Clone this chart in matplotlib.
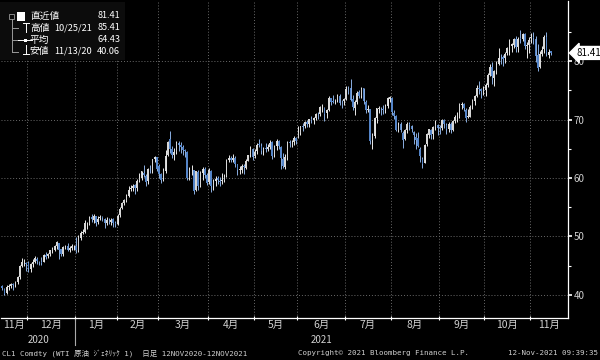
import matplotlib
matplotlib.use("Agg")
import matplotlib.pyplot as plt
import matplotlib.transforms as mtransforms
from matplotlib.patches import Rectangle
from matplotlib.lines import Line2D
import numpy as np
import pandas as pd

plt.rcParams['font.family'] = ['Noto Sans CJK JP', 'DejaVu Sans']

# CL1 Comdty daily bars, 12 Nov 2020 - 12 Nov 2021
holidays = ['2020-11-26', '2020-12-25', '2021-01-01', '2021-01-18', '2021-02-15',
            '2021-04-02', '2021-05-31', '2021-07-05', '2021-09-06']
dates = pd.bdate_range('2020-11-12', '2021-11-12', freq='C', holidays=holidays)

opens = [
    41.45, 41.07, 40.35, 41.43, 41.51, 41.83, 41.73, 42.24, 43.09, 44.89, 45.44, 45.53,
    45.41, 44.37, 45.26, 45.67, 46.19, 45.63, 45.58, 45.67, 46.81, 46.73, 46.97, 47.66,
    47.75, 48.31, 48.84, 47.81, 46.99, 48.11, 48.31, 47.70, 48.05, 48.47,
    48.40, 47.53, 49.81, 50.58, 50.84, 52.25, 52.22, 53.27, 52.86, 53.44, 52.43, 53.12,
    53.37, 52.99, 52.31, 52.73, 52.55, 52.92, 52.26,
    52.20, 53.67, 54.83, 55.77, 56.12, 56.90, 58.10, 58.38, 58.77, 58.26, 59.50, 60.00,
    60.93, 60.38, 59.47, 61.69, 61.33, 63.30, 63.56,
    62.00, 60.69, 60.01, 61.16, 63.95, 66.60, 64.96, 63.96, 64.53, 66.05, 65.62, 65.36,
    64.83, 64.39, 60.02, 61.55, 61.33, 58.00, 61.07, 58.69, 60.92, 61.54, 60.57,
    59.31, 61.25, 58.57, 59.42, 59.93, 59.54, 59.49, 59.61, 60.41, 63.15, 63.48, 63.15,
    63.47, 62.37, 61.43, 61.37, 62.11, 61.80, 62.96, 63.95, 64.98,
    63.78, 64.58, 65.86, 65.52, 64.61, 65.14, 64.92, 65.38, 66.13, 63.98, 65.46, 66.38,
    65.31, 63.31, 61.92, 63.36, 66.19, 66.09, 66.25, 66.92,
    66.89, 67.75, 68.93, 68.95, 69.64, 69.31, 70.08, 69.93, 70.24, 70.94, 70.89, 72.11,
    71.99, 71.05, 71.58, 73.67, 73.25, 73.12, 73.28, 74.08, 72.99, 73.17,
    73.56, 75.24, 75.35, 73.57, 71.94, 73.01, 74.72, 74.07, 75.38, 73.06, 71.71, 71.85,
    66.44, 67.14, 70.23, 71.81, 72.04, 71.90, 71.68, 72.30, 73.47,
    73.65, 71.21, 70.60, 68.15, 69.17, 67.77, 66.73, 68.27, 69.28, 68.85, 67.90, 67.08,
    66.87, 65.00, 63.34, 62.60, 65.75, 67.40, 68.29, 67.51, 68.81, 69.13,
    68.66, 68.58, 69.93, 69.05, 68.38, 69.32, 68.26, 69.75, 70.44, 70.49, 72.55, 72.60,
    71.70, 70.44, 70.52, 72.30, 73.24, 74.00, 75.45, 75.29, 74.88,
    75.09, 75.92, 77.69, 78.99, 77.18, 78.35, 79.56, 80.77, 80.67, 80.53, 81.42, 82.42,
    82.55, 82.71, 83.77, 82.46, 83.98, 83.77, 84.66, 82.55, 82.85,
    83.98, 84.11, 83.80, 81.05, 79.07, 81.20, 82.01, 84.22, 81.08, 81.68,
]
highs = [
    41.70, 41.21, 41.70, 41.95, 42.04, 42.00, 42.38, 43.27, 45.20, 46.26, 46.10, 45.58,
    45.85, 45.43, 46.14, 46.68, 46.49, 45.89, 46.55, 47.00, 47.30, 47.23, 47.77, 48.16,
    48.59, 49.28, 48.89, 47.89, 48.35, 48.58, 48.96, 48.35, 48.66, 48.58,
    49.83, 50.20, 50.94, 51.28, 52.75, 52.48, 53.48, 53.93, 53.86, 53.49, 53.43, 53.64,
    53.58, 53.18, 53.26, 53.17, 53.23, 53.13, 52.73,
    53.82, 55.08, 55.95, 56.33, 57.29, 58.62, 58.82, 58.91, 58.97, 59.82, 60.95, 61.28,
    62.26, 60.74, 61.80, 62.29, 63.33, 63.81, 63.66,
    62.47, 60.91, 61.75, 64.86, 66.40, 67.98, 65.52, 65.14, 66.40, 66.40, 66.09, 65.71,
    64.99, 64.66, 61.86, 62.21, 61.42, 61.28, 61.40, 61.16, 61.84, 61.93, 60.83,
    61.78, 61.35, 59.84, 60.30, 60.32, 60.10, 60.79, 60.65, 63.27, 63.86, 63.77, 64.06,
    63.79, 62.46, 62.07, 62.42, 62.32, 63.29, 63.97, 65.47, 65.10,
    64.90, 66.05, 66.69, 65.96, 65.25, 66.05, 65.81, 66.57, 66.33, 65.71, 66.72, 66.48,
    65.54, 64.24, 64.08, 66.33, 66.53, 66.47, 67.20, 67.03,
    68.87, 68.87, 69.40, 69.76, 70.00, 70.06, 70.62, 70.44, 71.05, 71.31, 72.29, 72.66,
    72.14, 71.86, 73.96, 73.77, 74.25, 73.52, 74.45, 74.40, 73.30, 73.66,
    75.70, 75.79, 76.98, 74.27, 73.36, 74.88, 75.06, 75.52, 75.45, 73.31, 72.49, 71.87,
    67.70, 70.43, 72.04, 72.39, 72.20, 72.58, 72.72, 73.80, 74.10,
    73.87, 71.73, 70.76, 69.60, 69.51, 67.98, 68.44, 69.65, 69.54, 69.04, 67.98, 67.71,
    67.87, 65.37, 63.52, 65.90, 67.64, 68.43, 68.43, 68.93, 69.86, 69.32,
    69.04, 70.05, 70.18, 69.48, 69.63, 69.62, 69.86, 70.78, 71.22, 72.82, 73.07, 72.89,
    71.94, 71.87, 72.56, 73.47, 74.13, 75.89, 76.67, 75.37, 75.82,
    76.19, 77.90, 79.48, 79.78, 78.48, 80.11, 82.18, 81.27, 81.01, 81.62, 82.37, 83.87,
    83.15, 83.93, 84.25, 84.11, 85.41, 84.88, 84.77, 83.36, 84.14,
    84.88, 84.97, 84.25, 83.00, 81.80, 82.65, 84.55, 84.97, 82.11, 81.77,
]
lows = [
    40.76, 40.06, 40.18, 40.89, 41.25, 40.87, 41.40, 41.95, 42.80, 44.72, 44.99, 44.01,
    43.92, 43.88, 44.70, 45.44, 45.31, 45.17, 45.18, 45.55, 46.18, 46.33, 46.70, 47.19,
    47.60, 47.92, 46.16, 46.71, 46.67, 47.88, 47.50, 47.42, 47.77, 47.77,
    47.18, 47.26, 49.46, 50.40, 50.54, 51.22, 51.89, 52.54, 52.33, 51.81, 52.10, 52.77,
    52.71, 51.44, 51.93, 52.07, 51.91, 51.66, 51.67,
    51.94, 53.42, 54.65, 55.31, 55.89, 56.83, 57.70, 57.78, 57.33, 57.86, 59.37, 59.62,
    60.19, 58.59, 59.00, 60.85, 60.86, 62.69, 61.21,
    59.96, 59.17, 59.55, 60.84, 63.74, 64.21, 63.37, 63.12, 64.13, 64.64, 64.29, 63.93,
    63.59, 59.65, 59.66, 60.46, 57.32, 57.85, 57.91, 58.40, 59.74, 59.96, 58.86,
    59.06, 57.63, 58.04, 58.63, 58.99, 58.70, 58.94, 59.40, 60.26, 62.75, 62.72, 62.77,
    61.81, 60.56, 60.77, 60.79, 60.67, 61.58, 62.88, 63.54, 63.09,
    63.46, 64.19, 65.26, 64.18, 64.00, 64.46, 64.55, 64.89, 63.21, 63.63, 64.85, 64.95,
    61.56, 61.79, 61.51, 63.14, 65.24, 65.38, 65.68, 65.77,
    66.80, 67.33, 68.08, 68.56, 68.72, 68.82, 69.43, 69.17, 69.97, 70.04, 70.58, 71.37,
    69.76, 70.23, 71.43, 72.54, 72.84, 72.66, 73.10, 72.49, 71.98, 72.55,
    73.29, 74.36, 73.15, 71.70, 70.76, 72.67, 73.76, 73.78, 72.66, 71.10, 71.28, 65.80,
    65.01, 66.90, 69.40, 71.05, 70.82, 71.01, 71.21, 72.07, 72.93,
    70.87, 70.14, 67.99, 67.81, 67.96, 65.15, 66.52, 67.71, 68.28, 67.87, 65.86, 65.01,
    65.23, 62.74, 61.74, 62.50, 65.42, 66.85, 66.74, 66.76, 68.22, 67.36,
    67.58, 68.18, 68.59, 67.58, 67.83, 67.68, 67.98, 69.45, 69.53, 70.27, 71.80, 71.44,
    69.60, 70.27, 70.38, 71.86, 72.57, 73.95, 74.33, 73.71, 74.24,
    74.06, 75.52, 77.51, 76.08, 75.82, 77.86, 79.42, 79.51, 79.19, 79.77, 81.04, 81.08,
    81.60, 82.23, 81.54, 81.51, 83.11, 83.44, 82.14, 80.59, 81.33,
    83.08, 82.86, 79.86, 78.25, 78.77, 80.85, 81.40, 80.82, 80.51, 81.14,
]
closes = [
    41.12, 40.13, 41.34, 41.43, 41.82, 41.74, 42.15, 43.06, 44.91, 45.71, 45.53, 45.34,
    44.55, 45.28, 45.64, 46.26, 45.76, 45.60, 45.52, 46.78, 46.57, 46.99, 47.62, 47.82,
    48.36, 49.10, 47.74, 47.02, 48.12, 48.23, 47.62, 48.00, 48.40, 48.52,
    47.62, 49.93, 50.63, 50.83, 52.24, 52.25, 53.21, 52.91, 53.57, 52.36, 52.98, 53.31,
    53.13, 52.27, 52.77, 52.61, 52.85, 52.34, 52.20,
    53.55, 54.76, 55.69, 56.23, 56.85, 57.97, 58.36, 58.68, 58.24, 59.47, 60.05, 61.14,
    60.52, 59.24, 61.49, 61.67, 63.22, 63.53, 61.50,
    60.64, 59.75, 61.28, 63.83, 66.09, 65.05, 64.01, 64.44, 66.02, 65.61, 65.39, 64.80,
    64.60, 60.00, 61.42, 61.55, 57.76, 61.18, 58.56, 60.97, 61.56, 60.55, 59.16,
    61.45, 58.65, 59.33, 59.77, 59.60, 59.32, 59.70, 60.18, 63.15, 63.46, 63.13, 63.38,
    62.44, 61.35, 61.43, 62.14, 61.91, 62.94, 63.86, 65.01, 63.58,
    64.49, 65.69, 65.63, 64.71, 64.90, 64.92, 65.28, 66.08, 63.82, 65.37, 66.27, 65.49,
    63.36, 62.05, 63.58, 66.05, 66.07, 66.21, 66.85, 66.32,
    67.72, 68.83, 68.81, 69.62, 69.23, 70.05, 69.96, 70.29, 70.91, 70.88, 72.12, 72.15,
    71.04, 71.64, 73.66, 73.06, 73.08, 73.30, 74.05, 72.91, 72.98, 73.47,
    75.23, 75.16, 73.37, 72.20, 72.94, 74.56, 74.10, 75.25, 73.13, 71.65, 71.81, 66.42,
    67.42, 70.30, 71.91, 72.07, 71.91, 71.65, 72.39, 73.62, 73.95,
    71.26, 70.56, 68.15, 69.09, 68.28, 66.48, 68.29, 69.25, 69.09, 68.44, 67.29, 66.59,
    65.46, 63.69, 62.32, 65.64, 67.54, 68.36, 67.42, 68.74, 69.21, 68.50,
    68.59, 69.99, 69.29, 68.35, 69.30, 68.14, 69.72, 70.45, 70.46, 72.61, 72.61, 71.97,
    70.29, 70.56, 72.23, 73.30, 73.98, 75.45, 75.29, 74.83, 75.03,
    75.88, 77.62, 78.93, 77.43, 78.30, 79.35, 80.52, 80.64, 80.44, 81.31, 82.28, 82.44,
    82.96, 83.87, 82.50, 83.76, 83.76, 84.65, 82.66, 82.81, 83.57,
    84.05, 83.91, 80.86, 78.81, 81.27, 81.93, 84.15, 81.34, 81.59, 81.41,
]

month_names = ['11月', '12月', '1月', '2月', '3月', '4月', '5月', '6月', '7月', '8月', '9月', '10月', '11月']
legend_rows = [('直近値', '', '81.41'), ('高値', '10/25/21', '85.41'),
               ('平均', '', '64.43'), ('安値', '11/13/20', '40.06')]
last_price = 81.41

BG = 'black'
UP = '#d6d6d6'
DOWN = '#5585c8'
GRID = '#6a6a6a'
TXT = '#d0d0d0'

W, H = 600, 360
fig = plt.figure(figsize=(6, 3.6), dpi=100, facecolor=BG)
ax = fig.add_axes([1 / W, 42 / H, 567 / W, 317 / H], facecolor=BG)

def px(x, y):
    return x / W, 1 - y / H

o = np.array(opens)
hi = np.array(highs)
lo = np.array(lows)
c = np.array(closes)
x = np.arange(len(c))
up = c >= o
cols = np.where(up, UP, DOWN)

ax.vlines(x, lo, hi, colors=np.where(up, '#ececec', '#8aaee0'), lw=0.7, zorder=3)
body = np.maximum(np.abs(c - o), 0.08)
ax.bar(x, body, bottom=np.minimum(o, c), width=0.75, color=cols, lw=0, zorder=4)

ax.set_xlim(-0.6, 259.9)
ax.set_ylim(36.05, 90.3)

# month boundaries from the trading calendar
mon = dates.month.values
starts = [0] + [i for i in range(1, len(mon)) if mon[i] != mon[i - 1]]
bounds = [s - 0.5 for s in starts[1:]]
edges = [-0.6] + bounds + [259.9]
centers = [(edges[k] + edges[k + 1]) / 2 for k in range(len(edges) - 1)]

for b in bounds:
    ax.axvline(b, color=GRID, lw=0.7, ls=(0, (1, 2)), zorder=1)
for v in [40, 50, 60, 70, 80]:
    ax.axhline(v, color=GRID, lw=0.7, ls=(0, (1, 2)), zorder=1)

for s in ['top', 'left']:
    ax.spines[s].set_visible(False)
for s in ['right', 'bottom']:
    ax.spines[s].set_color('white')
    ax.spines[s].set_linewidth(0.9)

ax.yaxis.tick_right()
ax.set_yticks([40, 50, 60, 70, 80])
ax.set_yticks([45, 55, 65, 75, 85], minor=True)
ax.tick_params(axis='y', which='major', colors='white', length=3, width=1.2,
               labelsize=7, labelcolor=TXT, pad=1)
ax.tick_params(axis='y', which='minor', colors='white', length=2, width=0.8)

ax.set_xticks(bounds)
ax.set_xticklabels([])
ax.set_xticks(centers, minor=True)
ax.set_xticklabels(month_names, minor=True)
ax.tick_params(axis='x', which='major', colors='white', length=3, width=0.8, direction='inout')
ax.tick_params(axis='x', which='minor', length=0, labelsize=7.5, labelcolor=TXT, pad=1.5)

# year labels and separator
trans = mtransforms.blended_transform_factory(ax.transData, ax.transAxes)
jan = bounds[1]
ax.plot([jan, jan], [0, -0.085], transform=trans, color='#aaaaaa', lw=0.8, clip_on=False)
ax.text((edges[0] + jan) / 2, -0.053, '2020', transform=trans, ha='center', va='top',
        fontsize=7, color=TXT)
ax.text((jan + edges[-1]) / 2, -0.053, '2021', transform=trans, ha='center', va='top',
        fontsize=7, color=TXT)

# last price tag
ax.annotate(f'{last_price:.2f}', xy=(1, last_price), xycoords=('axes fraction', 'data'),
            xytext=(6, 0), textcoords='offset points', ha='left', va='center',
            fontsize=7, color='black',
            bbox=dict(boxstyle='larrow,pad=0.15', fc='white', ec='white'))

# legend block
fig.add_artist(Rectangle(px(0, 60), 125 / W, 58 / H, transform=fig.transFigure,
                         fc='#0c0c0c', ec='none', zorder=5))
fig.add_artist(Rectangle(px(9, 19), 5 / W, 5 / H, transform=fig.transFigure,
                         fc='none', ec='#9a9a9a', lw=0.6, zorder=6))
fig.add_artist(Rectangle(px(17, 21), 8 / W, 9 / H, transform=fig.transFigure,
                         fc='white', ec='none', zorder=6))
def seg(x0, y0, x1, y1, col='#9a9a9a', lw=0.7):
    a, b = px(x0, y0)
    c2, d = px(x1, y1)
    fig.add_artist(Line2D([a, c2], [b, d], transform=fig.transFigure, color=col, lw=lw, zorder=6))
seg(11.5, 19, 11.5, 52)
for yy in [28, 40, 52]:
    seg(11.5, yy, 18, yy)
seg(23, 23, 29, 23, 'white')
seg(26, 23, 26, 32, 'white')
seg(18, 40, 32, 40, 'white')
seg(26, 45, 26, 54, 'white')
seg(23, 54, 29, 54, 'white')
fig.add_artist(Rectangle(px(24, 41.5), 3 / W, 3 / H, transform=fig.transFigure,
                         fc='white', ec='none', zorder=6))
for k, (lab, dt, val) in enumerate(legend_rows):
    yy = 16 + k * 11.8
    fig.text(*px(30, yy), lab, fontsize=7, color='white', va='center', ha='left', zorder=7)
    if dt:
        fig.text(*px(54, yy), dt, fontsize=6.6, color='white', va='center', ha='left', zorder=7)
    fig.text(*px(120, yy), val, fontsize=6.6, color='white', va='center', ha='right', zorder=7)

# footer
mono = ['DejaVu Sans Mono', 'Noto Sans CJK JP']
fig.text(*px(2, 353), 'CL1 Comdty (WTI 原油 ｼﾞｪﾈﾘｯｸ 1)  日足 12NOV2020-12NOV2021',
         fontsize=5.4, color=TXT, va='center', ha='left', family=mono)
fig.text(*px(298, 353), 'Copyright© 2021 Bloomberg Finance L.P.',
         fontsize=5.4, color=TXT, va='center', ha='left', family=mono)
fig.text(*px(598, 353), '12-Nov-2021 09:39:35',
         fontsize=5.4, color=TXT, va='center', ha='right', family=mono)

fig.savefig('out.png', dpi=100, facecolor=BG)
